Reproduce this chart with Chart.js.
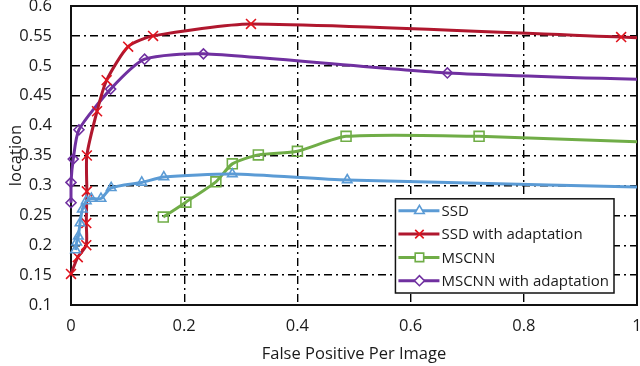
<!DOCTYPE html>
<html>
<head>
<meta charset="utf-8">
<script src="https://cdn.jsdelivr.net/npm/chart.js@4.4.0/dist/chart.umd.min.js"></script>
<style>
  html, body { margin: 0; padding: 0; background: #fff; }
</style>
</head>
<body>
<canvas id="chart" width="640" height="366"></canvas>
<script>
// values (x = false positives per image, y = location)
const ssdFppi = [0.008, 0.010, 0.013, 0.016, 0.020, 0.027, 0.036, 0.053, 0.071, 0.125, 0.164, 0.285, 0.488, 1.2];
const ssdLoc  = [0.192, 0.205, 0.215, 0.237, 0.260, 0.274, 0.278, 0.278, 0.296, 0.305, 0.314, 0.319, 0.309, 0.293];

const ssdAdaptFppi = [0, 0.012, 0.027, 0.027, 0.028, 0.028, 0.046, 0.063, 0.101, 0.145, 0.318, 0.972, 1.2];
const ssdAdaptLoc  = [0.152, 0.180, 0.200, 0.237, 0.290, 0.350, 0.424, 0.476, 0.532, 0.550, 0.570, 0.548, 0.540];

const mscnnFppi = [0.163, 0.203, 0.256, 0.285, 0.331, 0.400, 0.486, 0.721, 1.2];
const mscnnLoc  = [0.247, 0.272, 0.306, 0.336, 0.351, 0.357, 0.382, 0.382, 0.366];

const mscnnAdaptFppi = [0, 0, 0.004, 0.014, 0.070, 0.130, 0.234, 0.665, 1.2];
const mscnnAdaptLoc  = [0.271, 0.305, 0.344, 0.393, 0.461, 0.511, 0.520, 0.488, 0.472];

const seriesNames = ['SSD', 'SSD with adaptation', 'MSCNN', 'MSCNN with adaptation'];

const xTicks = [0, 0.2, 0.4, 0.6, 0.8, 1];
const yTicks = [0.1, 0.15, 0.2, 0.25, 0.3, 0.35, 0.4, 0.45, 0.5, 0.55, 0.6];

function pts(xs, ys) {
    return xs.map((x, i) => ({ x: x, y: ys[i] }));
}

const FONT = '"Open Sans", Lato, sans-serif';
const TEXT = '#1a1a1a';
const gridDash = [8, 4, 2, 4];

function series(label, data, line, marker, style, radius) {
    return {
        label: label,
        data: data,
        showLine: true,
        borderColor: line,
        borderWidth: 3,
        tension: 0.22,
        pointStyle: style,
        pointRadius: radius,
        pointBorderColor: marker,
        pointBackgroundColor: 'rgba(255,255,255,0)',
        pointBorderWidth: 1.6,
        clip: { left: 10, top: 10, right: 0, bottom: 10 }
    };
}

const datasets = [
    series(seriesNames[0], pts(ssdFppi, ssdLoc), '#5b9bd5', '#5b9bd5', 'triangle', 5.5),
    series(seriesNames[1], pts(ssdAdaptFppi, ssdAdaptLoc), '#b0172e', '#e0141e', 'crossRot', 7),
    series(seriesNames[2], pts(mscnnFppi, mscnnLoc), '#70ad47', '#70ad47', 'rect', 7),
    series(seriesNames[3], pts(mscnnAdaptFppi, mscnnAdaptLoc), '#7030a0', '#7030a0', 'rectRot', 5)
];

// plot frame (top/right edges) drawn under the series
const framePlugin = {
    id: 'frame',
    beforeDatasetsDraw(chart) {
        const { ctx, chartArea: a } = chart;
        ctx.save();
        ctx.strokeStyle = '#111';
        ctx.lineWidth = 2;
        ctx.strokeRect(a.left, a.top, a.right - a.left, a.bottom - a.top);
        ctx.restore();
    }
};

// boxed legend inside the plot, bottom right
const boxLegend = {
    id: 'boxLegend',
    afterDraw(chart) {
        const { ctx, chartArea: a } = chart;
        ctx.save();
        ctx.font = '15px ' + FONT;
        const rowH = 23.3;
        let textW = 0;
        chart.data.datasets.forEach(ds => { textW = Math.max(textW, ctx.measureText(ds.label).width); });
        const w = 47 + textW + 4;
        const h = rowH * chart.data.datasets.length + 1;
        const x = a.right - 23 - w;
        const y = a.bottom - 12 - h;
        ctx.fillStyle = '#fff';
        ctx.fillRect(x, y, w, h);
        ctx.strokeStyle = '#111';
        ctx.lineWidth = 1.5;
        ctx.strokeRect(x, y, w, h);
        chart.data.datasets.forEach((ds, i) => {
            const cy = y + 12 + i * rowH;
            ctx.strokeStyle = ds.borderColor;
            ctx.lineWidth = 3;
            ctx.beginPath();
            ctx.moveTo(x + 3, cy);
            ctx.lineTo(x + 44, cy);
            ctx.stroke();
            ctx.fillStyle = '#fff';
            ctx.strokeStyle = ds.pointBorderColor;
            ctx.lineWidth = 1.6;
            Chart.helpers.drawPoint(ctx, { pointStyle: ds.pointStyle, radius: Math.min(ds.pointRadius, 6), rotation: 0, borderWidth: 1.6 }, x + 24, cy);
            ctx.fillStyle = TEXT;
            ctx.textBaseline = 'middle';
            ctx.textAlign = 'left';
            ctx.fillText(ds.label, x + 46, cy + 1);
        });
        ctx.restore();
    }
};

new Chart(document.getElementById('chart'), {
    type: 'scatter',
    data: { datasets: datasets },
    options: {
        responsive: false,
        animation: false,
        layout: { autoPadding: false, padding: { top: 6, right: 3, left: 0, bottom: 0 } },
        plugins: {
            legend: { display: false },
            tooltip: { enabled: false }
        },
        scales: {
            x: {
                type: 'linear',
                min: 0,
                max: 1,
                afterBuildTicks: s => { s.ticks = xTicks.map(v => ({ value: v })); },
                afterFit: s => { s.height = 61; s.paddingRight = 3; },
                ticks: {
                    padding: 11,
                    color: TEXT,
                    font: { family: FONT, size: 16.5 },
                    callback: v => String(+v.toFixed(2))
                },
                grid: {
                    color: '#000',
                    lineWidth: 1.4,
                    drawTicks: false
                },
                border: { color: '#111', width: 2, dash: gridDash },
                title: {
                    display: true,
                    text: 'False Positive Per Image',
                    color: TEXT,
                    font: { family: FONT, size: 16.5 },
                    padding: { top: 0, bottom: 2 }
                }
            },
            y: {
                type: 'linear',
                min: 0.1,
                max: 0.6,
                afterBuildTicks: s => { s.ticks = yTicks.map(v => ({ value: v })); },
                afterFit: s => { s.width = 71; s.paddingTop = 6; s.paddingBottom = 0; },
                ticks: {
                    padding: 19,
                    color: TEXT,
                    font: { family: FONT, size: 16.5 },
                    callback: v => String(+v.toFixed(2))
                },
                grid: {
                    color: '#000',
                    lineWidth: 1.4,
                    drawTicks: false
                },
                border: { color: '#111', width: 2, dash: gridDash },
                title: {
                    display: true,
                    text: 'location',
                    color: TEXT,
                    font: { family: FONT, size: 16.5 },
                    padding: { top: 6, bottom: 0 }
                }
            }
        }
    },
    plugins: [framePlugin, boxLegend]
});
</script>
</body>
</html>
